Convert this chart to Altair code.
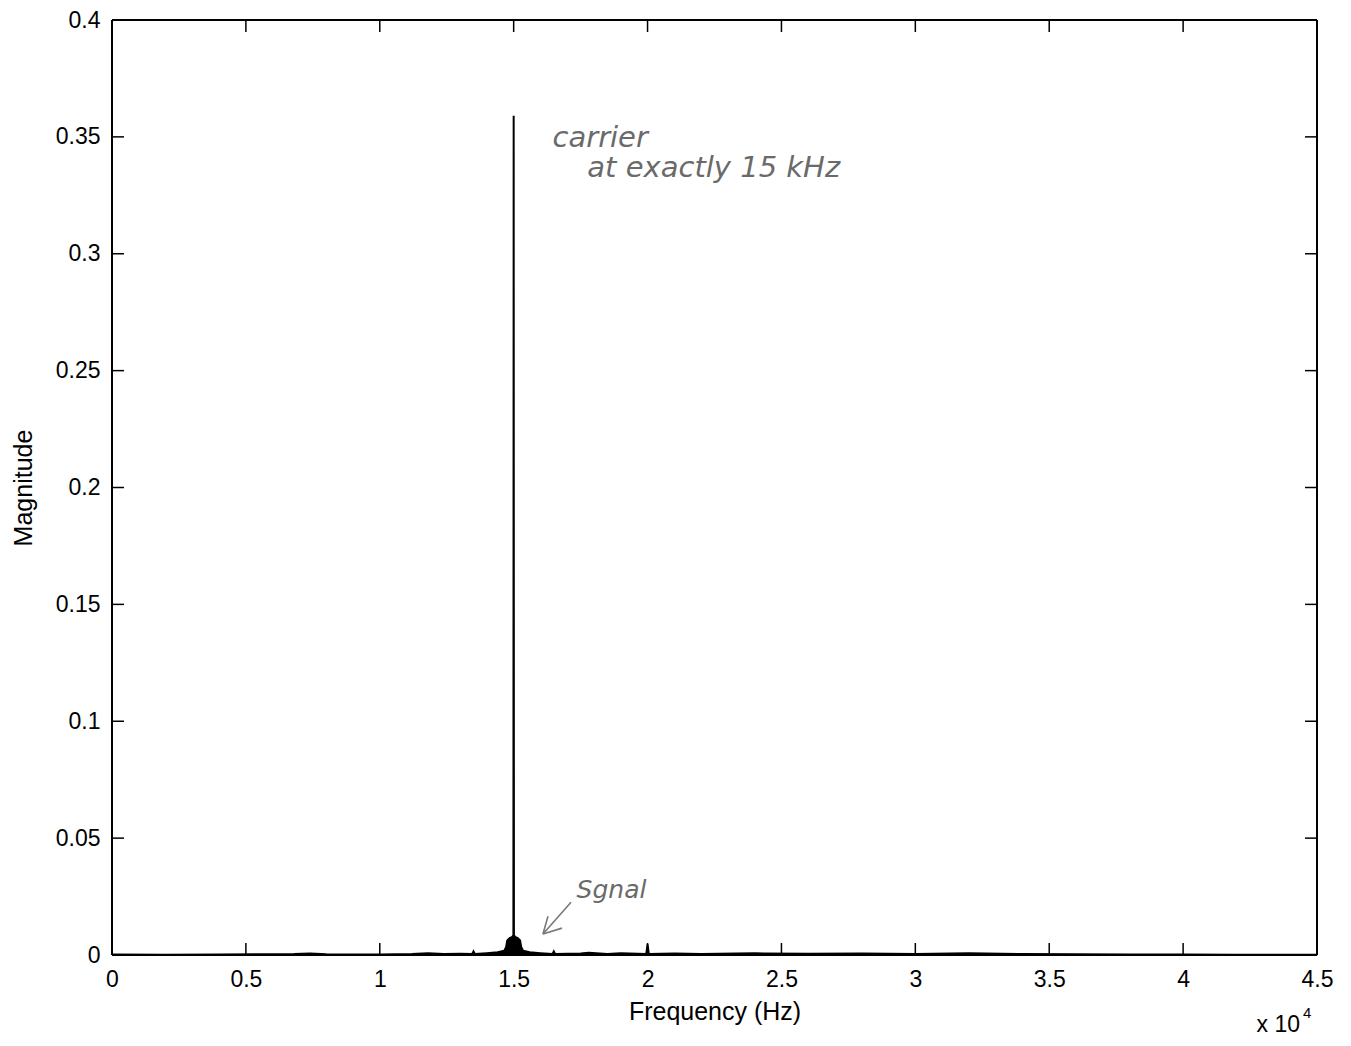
import altair as alt
import pandas as pd

# ---- data ----
freq_hz = [0, 2000, 4000, 6800, 7400, 8000, 10000, 11200, 11800, 12400, 13000,
           13450, 13500, 13550, 14000, 14400, 14650, 14720, 14760, 14850, 14950, 14990,
           15000, 15010, 15050, 15150, 15240, 15280, 15350, 15600, 16000, 16450, 16500,
           16550, 17500, 17800, 18500, 19000, 19950, 20000, 20050, 21000, 22000,
           24000, 26000, 28000, 30000, 32000, 34000, 36000, 38000, 40000, 42000, 45000]
magnitude = [0.0002, 0.0001, 0.0002, 0.0004, 0.0006, 0.0003, 0.0002, 0.0004, 0.0007, 0.0004, 0.0005,
             0.0004, 0.0015, 0.0004, 0.0008, 0.0012, 0.0018, 0.0035, 0.0062, 0.0072, 0.0078, 0.0085,
             0.359, 0.0085, 0.0078, 0.0072, 0.0062, 0.0035, 0.0018, 0.0012, 0.0008, 0.0004, 0.0015,
             0.0004, 0.0006, 0.0010, 0.0004, 0.0007, 0.0004, 0.0045, 0.0004, 0.0006, 0.0004,
             0.0007, 0.0005, 0.0006, 0.0004, 0.0007, 0.0004, 0.0003, 0.0002, 0.0002, 0.0001, 0.0001]

x_ticks = [0, 5000, 10000, 15000, 20000, 25000, 30000, 35000, 40000, 45000]
y_ticks = [0, 0.05, 0.1, 0.15, 0.2, 0.25, 0.3, 0.35, 0.4]

notes_text = ["carrier", "at   exactly   15 kHz", "Sgnal"]
notes_x = [16450, 17750, 17350]
notes_y = [0.3495, 0.3365, 0.0277]

arrow_seg = ["shaft", "shaft", "barbA", "barbA", "barbB", "barbB"]
arrow_x = [17141, 16095, 16095, 16805, 16095, 16282]
arrow_y = [0.02258, 0.00895, 0.00895, 0.0115, 0.00895, 0.0166]

W, H = 1205, 935
FONT = "Liberation Sans"

spec = pd.DataFrame({"f": freq_hz, "m": magnitude})
xt = pd.DataFrame({"v": x_ticks[1:-1]})
yt = pd.DataFrame({"v": y_ticks[1:-1]})
notes = pd.DataFrame({"t": notes_text, "x": notes_x, "y": notes_y})
arrow = pd.DataFrame({"seg": arrow_seg, "x": arrow_x, "y": arrow_y,
                      "o": list(range(len(arrow_seg)))})
expo = pd.DataFrame({"t": ["x 10"], "xx": [x_ticks[-1]], "yy": [y_ticks[0]]})
expo_sup = pd.DataFrame({"t": ["4"], "xx": [x_ticks[-1]], "yy": [y_ticks[0]]})

xscale = alt.Scale(domain=[0, 45000], nice=False, zero=False)
yscale = alt.Scale(domain=[0, 0.4], nice=False)

xaxis = alt.Axis(values=x_ticks, labelExpr="datum.value / 10000 + ''",
                 labelFontSize=23, labelFont=FONT, labelColor="black",
                 labelPadding=13, domain=False, ticks=False, grid=False,
                 title="Frequency (Hz)", titleFont=FONT, titleFontSize=25,
                 titleFontWeight="normal", titleColor="black",
                 titleY=56, titleBaseline="middle", labelFlush=False)
yaxis = alt.Axis(values=y_ticks, labelExpr="datum.value + ''",
                 labelFontSize=23, labelFont=FONT, labelColor="black",
                 labelPadding=12, domain=False, ticks=False, grid=False,
                 title="Magnitude", titleFont=FONT, titleFontSize=25,
                 titleFontWeight="normal", titleColor="black",
                 titleX=-89, titleY=H / 2, titleAngle=270,
                 titleBaseline="middle", titleAlign="center", labelFlush=False)

base = alt.Chart(spec)
area = base.mark_area(color="black", opacity=1).encode(
    x=alt.X("f:Q", scale=xscale, axis=xaxis),
    y=alt.Y("m:Q", scale=yscale, axis=yaxis),
)
line = base.mark_line(color="black", strokeWidth=2).encode(
    x=alt.X("f:Q", scale=xscale), y=alt.Y("m:Q", scale=yscale))

tick_len = 12
bt = alt.Chart(xt).mark_rule(color="black", strokeWidth=1.5).encode(
    x=alt.X("v:Q", scale=xscale), y=alt.value(H), y2=alt.value(H - tick_len))
tt = alt.Chart(xt).mark_rule(color="black", strokeWidth=1.5).encode(
    x=alt.X("v:Q", scale=xscale), y=alt.value(0), y2=alt.value(tick_len))
lt = alt.Chart(yt).mark_rule(color="black", strokeWidth=1.5).encode(
    y=alt.Y("v:Q", scale=yscale), x=alt.value(0), x2=alt.value(tick_len))
rt = alt.Chart(yt).mark_rule(color="black", strokeWidth=1.5).encode(
    y=alt.Y("v:Q", scale=yscale), x=alt.value(W), x2=alt.value(W - tick_len))

# frame (box) drawn as four rules at the domain edges
frame_h = alt.Chart(pd.DataFrame({"v": [y_ticks[0], y_ticks[-1]]})).mark_rule(
    color="black", strokeWidth=2).encode(
    y=alt.Y("v:Q", scale=yscale), x=alt.value(0), x2=alt.value(W))
frame_v = alt.Chart(pd.DataFrame({"v": [x_ticks[0], x_ticks[-1]]})).mark_rule(
    color="black", strokeWidth=2).encode(
    x=alt.X("v:Q", scale=xscale), y=alt.value(0), y2=alt.value(H))

note_big = alt.Chart(notes.iloc[:2]).mark_text(
    align="left", baseline="middle", font="DejaVu Sans", fontStyle="italic",
    fontWeight=300, fontSize=29, color="#6a6a6a").encode(
    x=alt.X("x:Q", scale=xscale), y=alt.Y("y:Q", scale=yscale), text="t:N")
note_small = alt.Chart(notes.iloc[2:]).mark_text(
    align="left", baseline="middle", font="DejaVu Sans", fontStyle="italic",
    fontWeight=300, fontSize=25, color="#6a6a6a").encode(
    x=alt.X("x:Q", scale=xscale), y=alt.Y("y:Q", scale=yscale), text="t:N")

arrow_marks = alt.Chart(arrow).mark_line(color="#7a7a7a", strokeWidth=1.6).encode(
    x=alt.X("x:Q", scale=xscale), y=alt.Y("y:Q", scale=yscale),
    detail="seg:N", order="o:Q")

exp_main = alt.Chart(expo).mark_text(
    align="right", baseline="alphabetic", font=FONT, fontSize=23, color="black",
    dx=-17, dy=77).encode(x=alt.X("xx:Q", scale=xscale),
                          y=alt.Y("yy:Q", scale=yscale), text="t:N")
exp_sup = alt.Chart(expo_sup).mark_text(
    align="left", baseline="alphabetic", font=FONT, fontSize=15, color="black",
    dx=-14, dy=63).encode(x=alt.X("xx:Q", scale=xscale),
                          y=alt.Y("yy:Q", scale=yscale), text="t:N")

chart = alt.layer(area, line, bt, tt, lt, rt, frame_h, frame_v, arrow_marks,
                  note_big, note_small, exp_main, exp_sup).properties(
    width=W, height=H,
    autosize=alt.AutoSizeParams(type="none"),
    padding={"left": 104, "top": 12, "right": 26, "bottom": 83},
).configure_view(stroke=None).configure(background="white")

chart.save("out.html", embed_options={"renderer": "svg", "actions": False})
